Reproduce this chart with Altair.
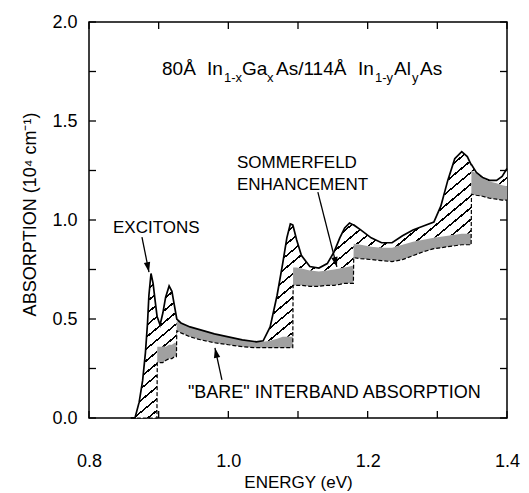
import math
import altair as alt
import pandas as pd

# ---------------- data ----------------
energy = [0.860, 0.866, 0.872, 0.877, 0.881, 0.884, 0.886, 0.889, 0.892, 0.895,
          0.8975, 0.898, 0.902, 0.906, 0.910, 0.915, 0.919, 0.923, 0.9255, 0.926,
          0.932, 0.945, 0.960, 0.980, 1.000, 1.020, 1.040, 1.050, 1.060, 1.070,
          1.078, 1.084, 1.089, 1.0925, 1.093, 1.098, 1.105, 1.117, 1.130, 1.142,
          1.152, 1.160, 1.167, 1.174, 1.1795, 1.180, 1.190, 1.205, 1.220, 1.235,
          1.250, 1.265, 1.280, 1.295, 1.305, 1.315, 1.325, 1.335, 1.343, 1.3485,
          1.349, 1.356, 1.365, 1.375, 1.385, 1.393, 1.400]
excitonic = [0.0, 0.0, 0.08, 0.19, 0.33, 0.48, 0.62, 0.73, 0.68, 0.59,
             0.52, 0.51, 0.47, 0.53, 0.61, 0.667, 0.64, 0.56, 0.51, 0.50,
             0.48, 0.46, 0.445, 0.425, 0.41, 0.395, 0.385, 0.39, 0.46, 0.62,
             0.78, 0.91, 0.98, 0.975, 0.97, 0.90, 0.82, 0.765, 0.757, 0.78,
             0.84, 0.91, 0.96, 0.985, 0.975, 0.975, 0.95, 0.91, 0.885, 0.885,
             0.92, 0.95, 0.97, 0.99, 1.07, 1.20, 1.31, 1.345, 1.32, 1.28,
             1.28, 1.24, 1.215, 1.20, 1.20, 1.22, 1.26]
sommerfeld = [0.0, 0.0, 0.0, 0.0, 0.0, 0.0, 0.0, 0.0, 0.0, 0.0,
              0.0, 0.36, 0.36, 0.36, 0.36, 0.37, 0.37, 0.38, 0.38, 0.49,
              0.48, 0.46, 0.445, 0.425, 0.41, 0.395, 0.385, 0.385, 0.39, 0.40,
              0.41, 0.41, 0.41, 0.41, 0.76, 0.76, 0.755, 0.745, 0.74, 0.745,
              0.75, 0.755, 0.76, 0.765, 0.77, 0.88, 0.875, 0.865, 0.86, 0.86,
              0.875, 0.89, 0.90, 0.91, 0.915, 0.92, 0.925, 0.93, 0.93, 0.93,
              1.25, 1.235, 1.21, 1.195, 1.185, 1.175, 1.17]
bare = [0.0, 0.0, 0.0, 0.0, 0.0, 0.0, 0.0, 0.0, 0.0, 0.0,
        0.0, 0.28, 0.28, 0.28, 0.29, 0.30, 0.30, 0.31, 0.31, 0.44,
        0.43, 0.41, 0.395, 0.38, 0.37, 0.36, 0.355, 0.355, 0.355, 0.355,
        0.355, 0.355, 0.355, 0.355, 0.67, 0.67, 0.67, 0.665, 0.665, 0.67,
        0.67, 0.675, 0.68, 0.68, 0.68, 0.81, 0.805, 0.80, 0.795, 0.79,
        0.80, 0.82, 0.84, 0.855, 0.86, 0.865, 0.87, 0.875, 0.875, 0.875,
        1.13, 1.125, 1.12, 1.11, 1.105, 1.10, 1.10]

x_ticks_major = [0.8, 1.0, 1.2, 1.4]
x_ticks_all = [0.8, 0.9, 1.0, 1.1, 1.2, 1.3, 1.4]
y_ticks_major = [0.0, 0.5, 1.0, 1.5, 2.0]
y_ticks_all = [0.0, 0.25, 0.5, 0.75, 1.0, 1.25, 1.5, 1.75, 2.0]

# annotation texts (left x, baseline y in data units, font size)
label_text = ["80Å", "In", "1-x", "Ga", "x", "As/114Å", "In", "1-y", "Al", "y", "As",
              "EXCITONS", "SOMMERFELD", "ENHANCEMENT", "\"BARE\" INTERBAND ABSORPTION"]
label_x = [0.9048, 0.9694, 0.9938, 1.0196, 1.0555, 1.0684, 1.1861, 1.2105, 1.2378, 1.2636, 1.2751,
           0.8344, 1.0123, 1.0123, 0.9420]
label_y = [1.732, 1.732, 1.695, 1.732, 1.695, 1.732, 1.732, 1.695, 1.732, 1.695, 1.732,
           0.934, 1.263, 1.152, 0.101]
label_size = [19, 19, 13, 19, 13, 19, 19, 13, 19, 13, 19, 17, 17, 17, 18]

# arrows (start -> tip)
arrow_x1 = [0.8760, 1.1285, 0.9908]
arrow_y1 = [0.914, 1.141, 0.192]
arrow_x2 = [0.8861, 1.1558, 0.9808]
arrow_y2 = [0.737, 0.763, 0.354]

# ---------------- layout ----------------
W, H = 418, 396
FONT = "Liberation Sans"
TICK = 7
px_per_x = W / 0.6
px_per_y = H / 2.0

df = pd.DataFrame({"energy": energy, "top": excitonic, "mid": sommerfeld, "bare": bare})
labels = pd.DataFrame({"x": label_x, "y": label_y, "text": label_text, "size": label_size})
angles = []
for a, b, c, d in zip(arrow_x1, arrow_y1, arrow_x2, arrow_y2):
    dx = (c - a) * px_per_x
    dy = -(d - b) * px_per_y
    angles.append(math.degrees(math.atan2(dx, -dy)) % 360)
arrows = pd.DataFrame({"x": arrow_x1, "y": arrow_y1, "x2": arrow_x2, "y2": arrow_y2, "angle": angles})
xt = pd.DataFrame({"tx": x_ticks_all})
yt = pd.DataFrame({"ty": y_ticks_all})

xscale = alt.Scale(domain=[0.8, 1.4], nice=False, zero=False)
yscale = alt.Scale(domain=[0.0, 2.0], nice=False, zero=False)

# hatch pattern as a striped linear gradient
N = 46
stops = []
for i in range(N):
    stops += [
        {"color": "white", "offset": i / N},
        {"color": "white", "offset": (i + 0.82) / N},
        {"color": "black", "offset": (i + 0.82) / N},
        {"color": "black", "offset": (i + 1) / N},
    ]
hatch = {"gradient": "linear", "x1": 0, "y1": 0, "x2": 1, "y2": 0.85, "stops": stops}

axis_x_main = alt.Axis(orient="bottom", values=x_ticks_major, format=".1f", ticks=False,
                       domain=False, grid=False, labelFont=FONT, labelFontSize=18,
                       labelColor="black", labelPadding=34, labelFlush=False,
                       labelOverlap=False, title="ENERGY (eV)", titleFont=FONT,
                       titleFontSize=17, titleFontWeight="normal", titleColor="black",
                       titleBaseline="middle", titleY=64)
axis_y_main = alt.Axis(orient="left", values=y_ticks_major, format=".1f", ticks=False,
                       domain=False, grid=False, labelFont=FONT, labelFontSize=18,
                       labelColor="black", labelPadding=12, labelOverlap=False,
                       labelFlush=False,
                       title="ABSORPTION (10⁴ cm⁻¹)", titleFont=FONT, titleFontSize=18,
                       titleFontWeight="normal", titleColor="black", titleAngle=270,
                       titleBaseline="middle", titleX=-59, titleY=192)

hatched = alt.Chart(df).mark_area(fill=hatch, strokeWidth=0).encode(
    x=alt.X("energy:Q", scale=xscale, axis=axis_x_main),
    y=alt.Y("top:Q", scale=yscale, axis=axis_y_main),
    y2="mid:Q",
)

dotted = alt.Chart(df).mark_area(color="#a0a0a0", strokeWidth=0).encode(
    x=alt.X("energy:Q", scale=xscale, axis=None),
    y=alt.Y("mid:Q", scale=yscale, axis=None),
    y2="bare:Q",
)

top_line = alt.Chart(df).mark_line(color="black", strokeWidth=1.7).encode(
    x=alt.X("energy:Q", scale=xscale, axis=None),
    y=alt.Y("top:Q", scale=yscale, axis=None),
)

bare_line = alt.Chart(df).mark_line(color="black", strokeWidth=1.2, strokeDash=[4, 2]).encode(
    x=alt.X("energy:Q", scale=xscale, axis=None),
    y=alt.Y("bare:Q", scale=yscale, axis=None),
)

# inward ticks on all four sides
tick_style = dict(color="black", thickness=1.3, size=TICK, opacity=1)
tick_bottom = alt.Chart(xt).mark_tick(orient="vertical", **tick_style).encode(
    x=alt.X("tx:Q", scale=xscale, axis=None), y=alt.value(H - TICK / 2))
tick_top = alt.Chart(xt).mark_tick(orient="vertical", **tick_style).encode(
    x=alt.X("tx:Q", scale=xscale, axis=None), y=alt.value(TICK / 2))
tick_left = alt.Chart(yt).mark_tick(orient="horizontal", **tick_style).encode(
    y=alt.Y("ty:Q", scale=yscale, axis=None), x=alt.value(TICK / 2))
tick_right = alt.Chart(yt).mark_tick(orient="horizontal", **tick_style).encode(
    y=alt.Y("ty:Q", scale=yscale, axis=None), x=alt.value(W - TICK / 2))

texts = alt.Chart(labels).mark_text(align="left", baseline="alphabetic", font=FONT,
                                    color="black").encode(
    x=alt.X("x:Q", scale=xscale, axis=None),
    y=alt.Y("y:Q", scale=yscale, axis=None),
    text="text:N",
    size=alt.Size("size:Q", scale=None),
)

arrow_lines = alt.Chart(arrows).mark_rule(color="black", strokeWidth=1.3).encode(
    x=alt.X("x:Q", scale=xscale, axis=None),
    y=alt.Y("y:Q", scale=yscale, axis=None),
    x2="x2:Q",
    y2="y2:Q",
)

arrow_heads = alt.Chart(arrows).mark_point(shape="M0,0L0.32,1L-0.32,1Z", filled=True,
                                           color="black", opacity=1, size=400,
                                           strokeWidth=0).encode(
    x=alt.X("x2:Q", scale=xscale, axis=None),
    y=alt.Y("y2:Q", scale=yscale, axis=None),
    angle=alt.Angle("angle:Q", scale=None),
)

chart = alt.layer(hatched, dotted, top_line, bare_line,
                  tick_bottom, tick_top, tick_left, tick_right,
                  texts, arrow_lines, arrow_heads).resolve_axis(
    x="independent", y="independent"
).properties(
    width=W, height=H,
    autosize=alt.AutoSizeParams(type="none"),
    padding={"left": 89, "top": 22, "right": 22, "bottom": 75},
    background="white",
).configure_view(stroke="black", strokeWidth=1.5)

chart.save("out.html", embed_options={"renderer": "svg", "actions": False})
